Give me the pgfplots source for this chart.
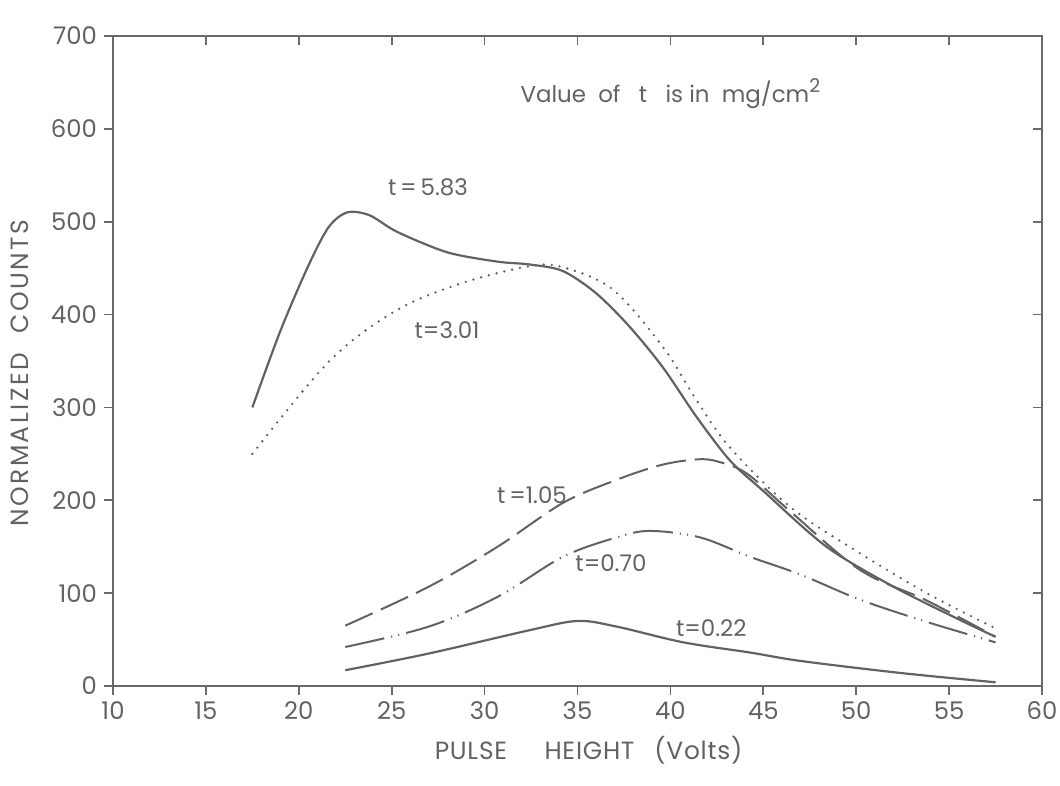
\documentclass[border=0pt]{standalone}
\usepackage{fontspec}
\setmainfont{Poppins}
\usepackage{pgfplots}
\pgfplotsset{compat=1.18}
\definecolor{ink}{HTML}{626262}
\definecolor{axisc}{HTML}{6A6A6A}
\begin{document}
\begin{tikzpicture}
\pgfplotsset{
  base/.style={
    scale only axis, width=464.5bp, height=325bp,
    xmin=10, xmax=60, ymin=0, ymax=700,
    xtick={10,15,...,60}, ytick={0,100,...,700},
    axis line style={axisc, line width=1pt},
    tick style={axisc, line width=0.9pt},
    major tick length=4.5bp,
    /pgf/number format/assume math mode=true,
    ticklabel style={font=\fontsize{12.2}{14}\selectfont, text=ink},
  },
}
\begin{axis}[base, tick align=outside, xtick pos=left, ytick pos=left,
  xlabel={PULSE\hspace{1.5em}HEIGHT\hspace{0.8em}(Volts)},
  ylabel={NORMALIZED\hspace{0.8em}COUNTS},
  every axis x label/.style={at={(axis description cs:0.512,-0.0985)}, anchor=center, font=\fontsize{12.5}{14}\selectfont\addfontfeatures{LetterSpace=3}, text=ink},
  every axis y label/.style={at={(axis description cs:-0.100,0.4815)}, anchor=center, rotate=90, font=\fontsize{12.5}{14}\selectfont\addfontfeatures{LetterSpace=10}, text=ink},
  clip=false,
]
% t = 5.83 (solid)
\addplot[ink, line width=1.1pt, smooth, tension=0.5] coordinates {
 (17.5,300) (19,382) (20.5,452) (21.6,494) (22.6,510) (23.8,507) (25.3,489)
 (28,467) (30.7,457) (32.4,454) (34.2,447) (36,423) (37.8,387) (39.6,343)
 (41.4,290) (43.2,243) (45,210) (48.4,150) (52,107) (55.6,71) (57.5,53)};
% t = 3.01 (dotted)
\addplot[ink, line width=1.3pt, line cap=round, dash pattern=on 0pt off 4bp, smooth, tension=0.55] coordinates {
 (17.5,250) (21.7,351) (25.3,405) (28.8,434) (32.4,452) (34.2,451) (36.9,427)
 (39.6,365) (41.4,308) (43.2,257) (46.5,192) (50.2,143) (53.8,100) (57.5,62)};
% t = 1.05 (dashed)
\addplot[ink, line width=1pt, dash pattern=on 15bp off 4.5bp, smooth, tension=0.55] coordinates {
 (22.5,65) (27,107) (30.7,150) (34.2,197) (37.1,222) (39.5,238) (41.4,244)
 (42.5,242) (44.1,229) (46.4,189) (50.2,125) (53.8,92) (57.5,53)};
% t = 0.70 (dash-dot-dot)
\addplot[ink, line width=1pt, dash pattern=on 20bp off 3.5bp on 0.6bp off 3bp on 0.6bp off 3.5bp, smooth, tension=0.55] coordinates {
 (22.5,42) (27,64) (30.7,96) (34.2,139) (37.1,160) (38.9,167) (41.6,160)
 (44.3,139) (47,120) (50.2,93) (53.8,69) (57.5,47)};
% t = 0.22 (solid)
\addplot[ink, line width=1.1pt, smooth, tension=0.55] coordinates {
 (22.5,17) (27,35) (32.4,60) (35,70) (37.1,64) (40.7,47) (44.3,36) (47,27)
 (52.4,14) (57.5,4)};
\begin{scope}[every node/.style={text=ink, font=\fontsize{11.5}{13}\selectfont}]
\node at (axis cs:26.95,537) {t\,=\,5.83};
\node at (axis cs:27.98,383) {t=3.01};
\node at (axis cs:32.55,206) {t\,=1.05};
\node at (axis cs:36.8,132) {t=0.70};
\node at (axis cs:42.2,62) {t=0.22};
\node at (axis cs:40.0,638) {Value\ \ of\ \ \ t\ \ \ is in\ \ mg/cm\raisebox{0.75ex}{\fontsize{9.5}{10}\selectfont 2}};
\end{scope}
\end{axis}
\begin{axis}[base, tick align=inside, xtick pos=right, ytick pos=right,
  xticklabels={}, yticklabels={}]
\end{axis}
\pgfresetboundingbox
\path[use as bounding box] (-56.5bp,-50bp) rectangle (473.5bp,343bp);
\end{tikzpicture}
\end{document}
